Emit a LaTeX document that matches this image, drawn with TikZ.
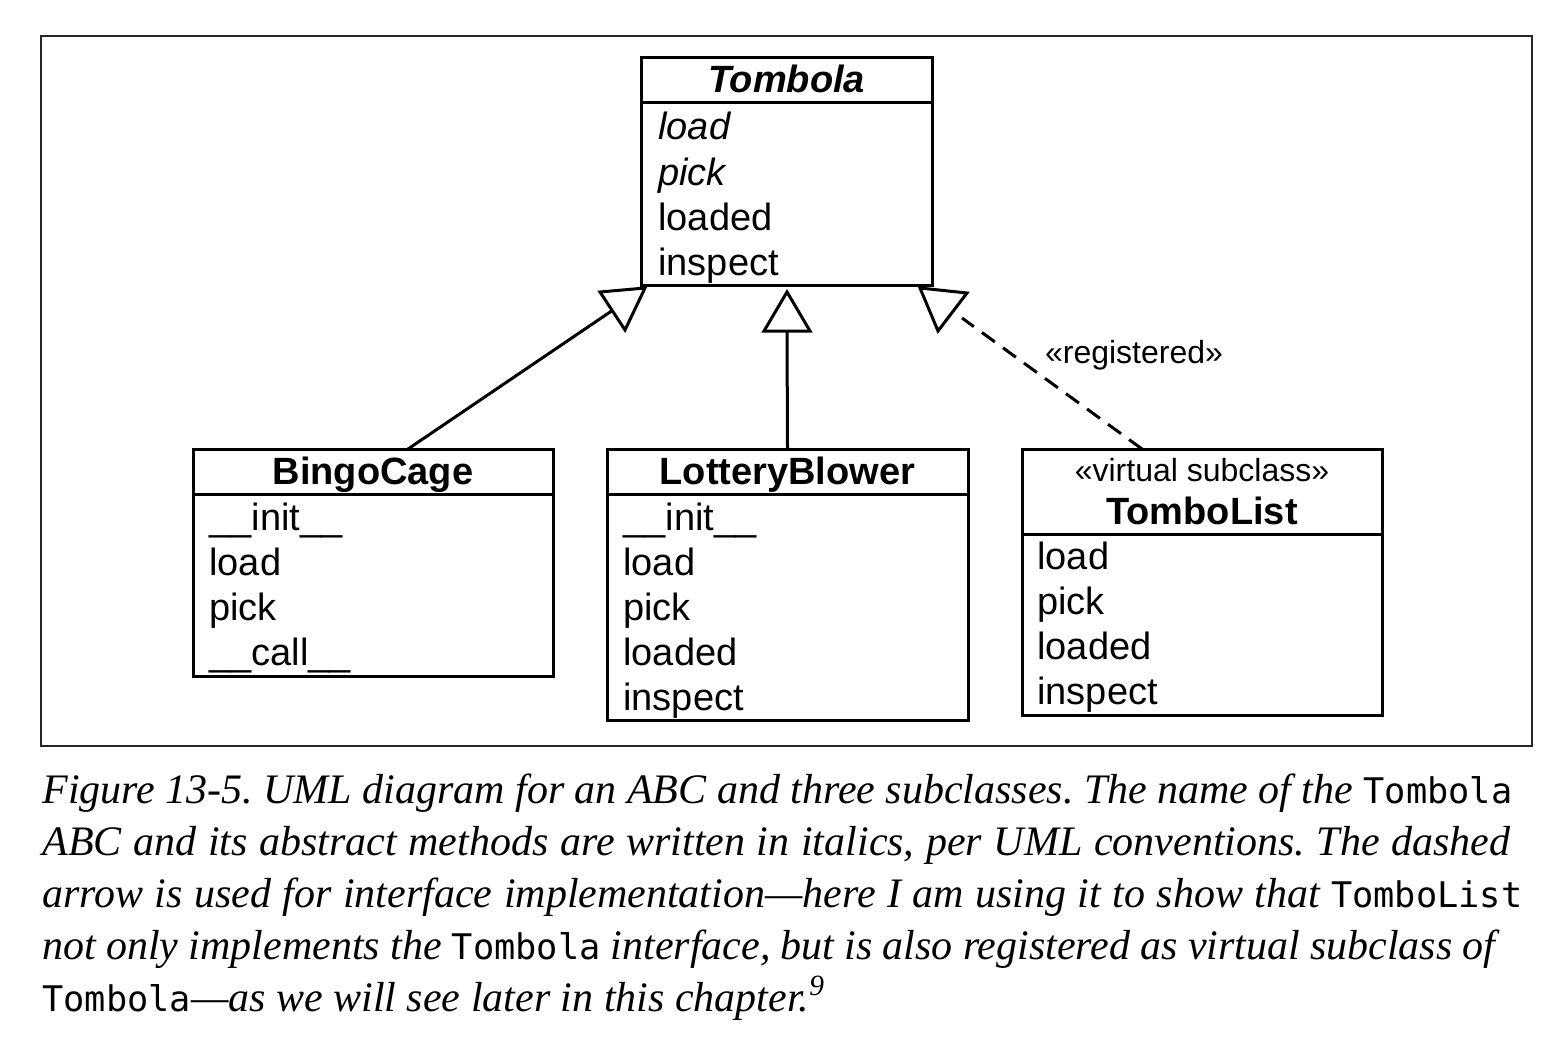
\documentclass[tikz,border=0pt]{standalone}
\usepackage{fontspec}
\setmainfont{Liberation Serif}
\newfontfamily\umlfont{Liberation Sans}
\newfontfamily\codefont{DejaVu Sans Mono}[Scale=0.84]
\usetikzlibrary{positioning}
\frenchspacing

\tikzset{
  umlbox/.style={draw, line width=1.5pt, rectangle, inner sep=0pt, outer sep=0pt, anchor=north west},
  umlline/.style={line width=1.5pt},
  member/.style={anchor=base west, inner sep=0pt, font=\umlfont\fontsize{19}{22}\selectfont},
  classname/.style={anchor=base, inner sep=0pt, font=\umlfont\bfseries\fontsize{19}{22}\selectfont},
  stereo/.style={anchor=base, inner sep=0pt, font=\umlfont\fontsize{16}{19}\selectfont},
  capline/.style={anchor=base west, inner sep=0pt, font=\itshape\fontsize{21}{26}\selectfont},
}
\newcommand{\code}[1]{{\upshape\codefont #1}}

\begin{document}
\begin{tikzpicture}[x=0.5pt, y=-0.5pt]
    \useasboundingbox (0,0) rectangle (1550,1038);

    % 1. Khung ngoai
    \draw[line width=0.75pt, black!85] (41,36) rectangle (1532,746);

    % 2. Lop truu tuong Tombola
    \node[umlbox, minimum width=145.5pt, minimum height=113.5pt] (tombola) at (641,58) {};
    \draw[umlline] (tombola.west |- 0,103) -- (tombola.east |- 0,103);
    \node[classname, font=\umlfont\bfseries\itshape\fontsize{19}{22}\selectfont] (tombolaName) at (786.5,93) {Tombola};
    \foreach \m [count=\i from 0] in {{\itshape load}, {\itshape pick}, loaded, inspect}
        \node[member] at (658, {140+45*\i}) {\m};

    % 3. BingoCage
    \node[umlbox, minimum width=180pt, minimum height=113.5pt] (bingo) at (193,449) {};
    \draw[umlline] (bingo.west |- 0,494) -- (bingo.east |- 0,494);
    \node[classname] (bingoName) at (373,484) {BingoCage};
    \foreach \m [count=\i from 0] in {\_\_init\_\_, load, pick, \_\_call\_\_}
        \node[member] at (209, {530+45*\i}) {\m};

    % 4. LotteryBlower
    \node[umlbox, minimum width=180.5pt, minimum height=135.5pt] (lottery) at (607,449) {};
    \draw[umlline] (lottery.west |- 0,494) -- (lottery.east |- 0,494);
    \node[classname] (lotteryName) at (787.5,484) {LotteryBlower};
    \foreach \m [count=\i from 0] in {\_\_init\_\_, load, pick, loaded, inspect}
        \node[member] at (623, {530+45*\i}) {\m};

    % 5. TomboList (lop con ao)
    \node[umlbox, minimum width=180pt, minimum height=133pt] (tombolist) at (1022,449) {};
    \draw[umlline] (tombolist.west |- 0,534) -- (tombolist.east |- 0,534);
    \node[stereo] (virtualTag) at (1202,481) {«virtual subclass»};
    \node[classname] (tombolistName) at (1202,524) {TomboList};
    \foreach \m [count=\i from 0] in {load, pick, loaded, inspect}
        \node[member] at (1037, {569+45*\i}) {\m};

    % 6. Cac mui ten ke thua
    \coordinate (bingoTop) at (408,449);
    \coordinate (hitLeft) at (613,310);
    \coordinate (baseMid) at (787,331);
    \coordinate (listTop) at (1142,449);
    \coordinate (hitRight) at (962,318);

    \draw[umlline] (bingoTop) -- (hitLeft);
    \draw[umlline] (lottery.north) -- (baseMid);
    \draw[umlline, dash pattern=on 8pt off 5pt] (listTop) -- (hitRight);

    \draw[umlline, fill=white, line join=miter] (600,292) -- (645,288) -- (625,330) -- cycle;
    \draw[umlline, fill=white, line join=miter] (787,292) -- (810,331) -- (764,331) -- cycle;
    \draw[umlline, fill=white, line join=miter] (920,288) -- (967,293) -- (938,331) -- cycle;

    \node[stereo] (registeredTag) at (1134,363) {«registered»};

    % 7. Chu thich hinh
    \node[capline] (cap1) at (42,803) {\makebox[735pt][s]{Figure 13-5. UML diagram for an ABC and three subclasses. The name of the \code{Tombola}}};
    \node[capline] (cap2) at (42,855) {\makebox[734pt][s]{ABC and its abstract methods are written in italics, per UML conventions. The dashed}};
    \node[capline] (cap3) at (42,907) {\makebox[740pt][s]{arrow is used for interface implementation—here I am using it to show that \code{TomboList}}};
    \node[capline] (cap4) at (42,959) {\makebox[726.5pt][s]{not only implements the \code{Tombola} interface, but is also registered as virtual subclass of}};
    \node[capline] (cap5) at (42,1011) {\code{Tombola}—as we will see later in this chapter.\textsuperscript{9}};
\end{tikzpicture}
\end{document}
